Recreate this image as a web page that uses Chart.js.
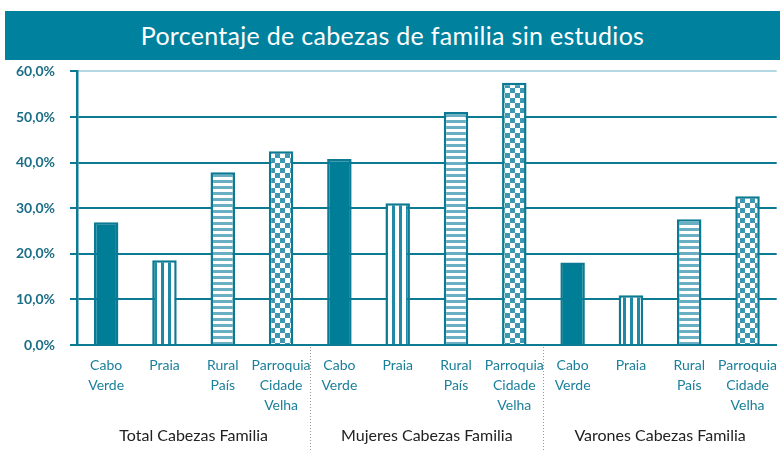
<!DOCTYPE html>
<html>
<head>
<meta charset="utf-8">
<script src="https://cdn.jsdelivr.net/npm/chart.js@4"></script>
<style>
  html, body { margin: 0; padding: 0; background: #fff; }
  #wrap { position: relative; width: 780px; height: 450px; overflow: hidden; }
  #banner {
    position: absolute; left: 5px; top: 11px; width: 775px; height: 49px; z-index: 2;
    background: #00829f; color: #fff; font-family: Lato, "Open Sans", sans-serif;
    font-size: 25px; line-height: 49px; text-align: center; letter-spacing: 0.3px;
  }
  #box { position: absolute; left: 0; top: 48px; width: 780px; height: 402px; }
</style>
</head>
<body>
<div id="wrap">
  <div id="banner">Porcentaje de cabezas de familia sin estudios</div>
  <div id="box"><canvas id="chart"></canvas></div>
</div>
<script>
// groups and places along the x axis
const groups = ['Total Cabezas Familia', 'Mujeres Cabezas Familia', 'Varones Cabezas Familia'];
const places = [['Cabo', 'Verde'], ['Praia'], ['Rural', 'País'], ['Parroquia', 'Cidade', 'Velha']];

// percentages
const totalVals = [26.9, 18.6, 37.9, 42.5];
const mujeresVals = [40.8, 31.1, 51.1, 57.5];
const varonesVals = [18.1, 10.9, 27.6, 32.6];

const yTicks = [0, 10, 20, 30, 40, 50, 60];

const teal = '#007e98';
const lineTeal = '#0b7a92';

// fill patterns, one per place
const makePattern = (w, h, draw) => {
    const c = document.createElement('canvas');
    c.width = w; c.height = h;
    const g = c.getContext('2d');
    g.fillStyle = '#fff';
    g.fillRect(0, 0, w, h);
    draw(g);
    return g.createPattern(c, 'repeat');
};
const vStripes = makePattern(7, 7, g => { g.fillStyle = '#1f8aa6'; g.fillRect(0, 0, 3, 7); });
const hStripes = makePattern(6, 6, g => { g.fillStyle = '#6aaec3'; g.fillRect(0, 0, 6, 3); });
const checker = makePattern(10, 10, g => {
    g.fillStyle = '#3f98b2';
    g.fillRect(0, 0, 5, 5);
    g.fillRect(5, 5, 5, 5);
});
const fills = [teal, vStripes, hStripes, checker];

const labels = [];
const values = [];
const bg = [];
[totalVals, mujeresVals, varonesVals].forEach(vals => {
    vals.forEach((v, i) => {
        labels.push(places[i]);
        values.push(v);
        bg.push(fills[i]);
    });
});

// group labels and dotted separators under the x axis
const groupPlugin = {
    id: 'groups',
    afterDraw(chart) {
        const x = chart.scales.x;
        const c = chart.ctx;
        const n = places.length;
        c.save();
        groups.forEach((name, gi) => {
            const a = x.getPixelForValue(gi * n);
            const b = x.getPixelForValue(gi * n + n - 1);
            c.fillStyle = '#222';
            c.font = '16px Lato, "Open Sans", sans-serif';
            c.textAlign = 'center';
            c.textBaseline = 'middle';
            c.fillText(name, (a + b) / 2, chart.height - 14);
            if (gi > 0) {
                const sx = Math.round((x.getPixelForValue(gi * n - 1) + a) / 2) + 0.5;
                c.strokeStyle = '#999';
                c.lineWidth = 1;
                c.setLineDash([1, 2]);
                c.beginPath();
                c.moveTo(sx, chart.chartArea.bottom + 2);
                c.lineTo(sx, chart.height);
                c.stroke();
            }
        });
        c.restore();
    }
};

new Chart(document.getElementById('chart'), {
    type: 'bar',
    data: {
        labels: labels,
        datasets: [{
            data: values,
            backgroundColor: bg,
            borderColor: lineTeal,
            borderWidth: 2.5,
            barPercentage: 0.42,
            categoryPercentage: 1.0
        }]
    },
    options: {
        responsive: true,
        maintainAspectRatio: false,
        animation: false,
        layout: { padding: { top: 0, right: 0, left: 0, bottom: 0 } },
        plugins: { legend: { display: false }, tooltip: { enabled: false } },
        scales: {
            x: {
                grid: { display: false },
                border: { color: lineTeal, width: 2 },
                ticks: {
                    color: '#1a7f99',
                    font: { family: 'Lato, "Open Sans", sans-serif', size: 14, lineHeight: 1.4 },
                    maxRotation: 0,
                    autoSkip: false,
                    padding: 3
                },
                afterFit: s => { s.height = 105; }
            },
            y: {
                min: 0,
                max: 60,
                afterBuildTicks: s => { s.ticks = yTicks.map(v => ({ value: v })); },
                grid: {
                    color: c => c.tick && c.tick.value === 60 ? '#b5d9e3' : lineTeal,
                    tickColor: lineTeal,
                    lineWidth: 2,
                    tickLength: 7
                },
                border: { color: lineTeal, width: 2.5 },
                ticks: {
                    color: '#1b6e85',
                    font: { family: 'Lato, "Open Sans", sans-serif', size: 14, weight: 'bold' },
                    padding: 15,
                    callback: v => v.toFixed(1).replace('.', ',') + '%'
                },
                afterFit: s => { s.width = 77; }
            }
        }
    },
    plugins: [groupPlugin]
});
</script>
</body>
</html>
